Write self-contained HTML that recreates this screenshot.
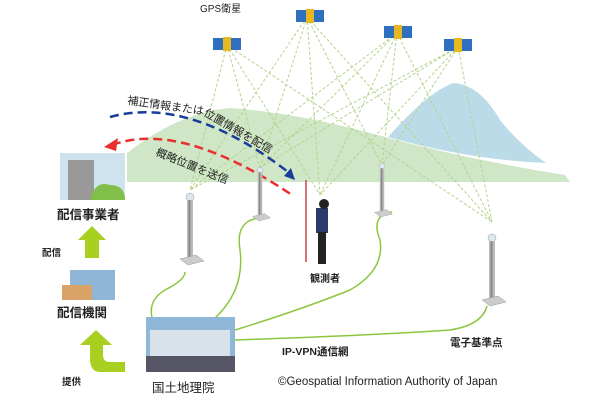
<!DOCTYPE html>
<html><head><meta charset="utf-8"><style>
body{margin:0;background:#fff}
svg{display:block}
text{font-family:"Liberation Sans","Noto Sans CJK JP",sans-serif;fill:#222}
</style></head><body>
<svg width="600" height="400" viewBox="0 0 600 400" xmlns="http://www.w3.org/2000/svg">
<defs>
<g id="sat"><rect x="-14" y="-7" width="10" height="12" fill="#2f6fc0"/><rect x="-4" y="-8" width="8" height="14" fill="#e8b820"/><rect x="4" y="-7" width="10" height="12" fill="#2f6fc0"/></g>
<g id="pole"><circle cx="0" cy="0" r="4" fill="#dde8ee" stroke="#999" stroke-width=".5"/><rect x="-3" y="3" width="6" height="58" fill="#bbb"/><rect x="-1.5" y="3" width="2" height="58" fill="#888"/><path d="M-10 62 L6 58 L14 64 L-2 68Z" fill="#ccc" stroke="#999" stroke-width=".5"/></g>
</defs>
<path d="M127 153 Q180 112 230 108 Q300 113 385 137 Q470 160 565 175 L570 182 L127 182Z" fill="#cfe6c7"/>
<path d="M388 137 Q430 90 454 83 Q480 85 500 120 Q520 145 546 163 Q470 160 388 137Z" fill="#bcdbe9"/>
<g stroke="#b5d38a" stroke-width="1" stroke-dasharray="3,2" fill="none">
<path d="M227 45 L190 190 M227 45 L260 168 M227 45 L320 195 M227 45 L492 222"/>
<path d="M307 17 L190 190 M307 17 L260 168 M307 17 L320 195 M307 17 L382 165 M307 17 L492 222"/>
<path d="M397 33 L190 190 M397 33 L260 168 M397 33 L320 195 M397 33 L382 165 M397 33 L492 222"/>
<path d="M458 47 L190 190 M458 47 L260 168 M458 47 L320 195 M458 47 L382 165 M458 47 L492 222"/>
</g>
<use href="#sat" x="227" y="45"/><use href="#sat" x="310" y="17"/><use href="#sat" x="398" y="33"/><use href="#sat" x="458" y="46"/>
<text x="200" y="12" font-size="10">GPS衛星</text>
<path d="M110 117 Q190 95 292 175" stroke="#1a3d9a" stroke-width="2.5" stroke-dasharray="9,5" fill="none"/>
<path d="M295 180 L284 176 L291 168Z" fill="#1a3d9a"/>
<path d="M112 145 Q180 120 292 195" stroke="#e83030" stroke-width="2.5" stroke-dasharray="9,5" fill="none"/>
<path d="M104 147 L118 138 L116 151Z" fill="#e83030"/>
<text font-size="11" transform="translate(127,104) rotate(8)">補正情報または</text>
<text font-size="11" transform="translate(203,115) rotate(30)">位置情報を配信</text>
<text font-size="11" transform="translate(155,155) rotate(22)">概略位置を送信</text>
<g stroke="#8cc63f" stroke-width="1.5" fill="none">
<path d="M152 318 Q148 300 165 290 Q185 280 185 272"/>
<path d="M215 318 Q245 290 240 250 Q235 220 260 218"/>
<path d="M235 330 Q300 310 350 290 Q385 270 380 240 Q370 215 392 212"/>
<path d="M235 340 Q380 335 450 330 Q482 325 487 306"/>
</g>
<use href="#pole" x="190" y="197"/>
<g transform="translate(260,170) scale(.75)"><use href="#pole"/></g>
<g transform="translate(382,166) scale(.75)"><use href="#pole"/></g>
<use href="#pole" x="492" y="238"/>
<line x1="306" y1="180" x2="306" y2="262" stroke="#c44" stroke-width="1.5"/>
<rect x="316" y="208" width="12" height="25" fill="#2a3a6a"/>
<circle cx="324" cy="204" r="5" fill="#222"/>
<rect x="318" y="232" width="8" height="32" fill="#222"/>
<text x="310" y="282" font-size="10" font-weight="bold">観測者</text>
<rect x="60" y="153" width="65" height="47" fill="#cfe3ee"/>
<rect x="68" y="160" width="26" height="40" fill="#999"/>
<path d="M90 200 Q95 180 110 185 Q125 185 125 200Z" fill="#7fbf4a"/>
<text x="57" y="219" font-size="12.5" font-weight="bold">配信事業者</text>
<path d="M85 258 L85 240 L78 240 L92 226 L106 240 L99 240 L99 258Z" fill="#a8d020"/>
<text x="42" y="256" font-size="9.5" font-weight="bold">配信</text>
<rect x="70" y="270" width="45" height="30" fill="#8fb6d6"/>
<rect x="62" y="285" width="30" height="15" fill="#d9a368"/>
<text x="57" y="317" font-size="12.5" font-weight="bold">配信機関</text>
<path d="M125 372 L100 372 Q90 372 90 358 L90 345 L80 345 L96 330 L112 345 L103 345 L103 355 Q103 362 110 362 L125 362Z" fill="#a8d020"/>
<text x="62" y="385" font-size="9.5" font-weight="bold">提供</text>
<rect x="146" y="317" width="89" height="55" fill="#8fb8d8"/>
<rect x="150" y="330" width="80" height="30" fill="#d8e2ea"/>
<rect x="146" y="356" width="89" height="16" fill="#556"/>
<text x="152" y="392" font-size="12.5">国土地理院</text>
<text x="282" y="355" font-size="10.5" font-weight="bold">IP-VPN通信網</text>
<text x="450" y="346" font-size="10.5" font-weight="bold">電子基準点</text>
<text x="278" y="385" font-size="11.5">©Geospatial Information Authority of Japan</text>
</svg>
</body></html>
